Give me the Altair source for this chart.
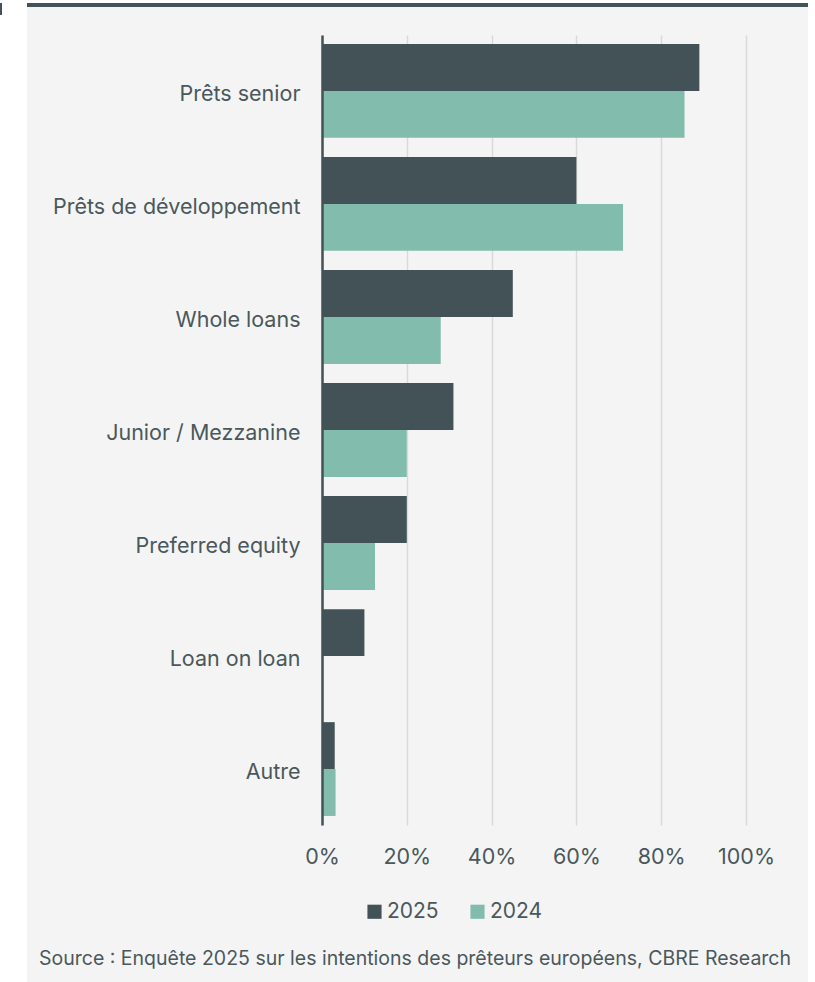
import altair as alt
import pandas as pd

categories = ["Prêts senior", "Prêts de développement", "Whole loans", "Junior / Mezzanine",
              "Preferred equity", "Loan on loan", "Autre"]
v2025 = [89, 60, 45, 31, 20, 10, 3]
v2024 = [85.5, 71, 28, 20, 12.5, 0, 3.2]
series = ["2025", "2024"]
colors = ["#435256", "#82bcad"]
x_ticks = [0, 20, 40, 60, 80, 100]
source_text = "Source : Enquête 2025 sur les intentions des prêteurs européens, CBRE Research"

rows = []
for c, a, b in zip(categories, v2025, v2024):
    rows.append({"cat": c, "year": "2025", "val": a})
    rows.append({"cat": c, "year": "2024", "val": b})
df = pd.DataFrame(rows)

TXT = "#4a585c"
FONT = "Inter"

one = pd.DataFrame({"a": [0]})

left_strip = alt.Chart(one).mark_rect(color="white").encode(
    x=alt.value(-322), x2=alt.value(-295), y=alt.value(-35), y2=alt.value(947)
)
right_strip = alt.Chart(one).mark_rect(color="white").encode(
    x=alt.value(486), x2=alt.value(493), y=alt.value(-35), y2=alt.value(947)
)
top_strip = alt.Chart(one).mark_rect(color="white").encode(
    x=alt.value(-322), x2=alt.value(493), y=alt.value(-35), y2=alt.value(-32)
)
topline = alt.Chart(one).mark_rule(color="#435256", strokeWidth=4).encode(
    x=alt.value(-295), x2=alt.value(486), y=alt.value(-30)
)
edge_mark = alt.Chart(one).mark_rule(color="#435256", strokeWidth=2).encode(
    x=alt.value(-321), y=alt.value(-32), y2=alt.value(-20)
)

bars = alt.Chart(df).mark_bar().encode(
    y=alt.Y("cat:N", sort=categories, title=None,
            scale=alt.Scale(paddingInner=0.17, paddingOuter=0.08),
            axis=alt.Axis(labelFontSize=21.5, labelColor=TXT, labelFont=FONT, labelPadding=22,
                          labelLimit=320, labelOffset=4, ticks=False, domain=True,
                          domainColor="#435256", domainWidth=2.5, labelFontWeight="normal",
                          zindex=1)),
    yOffset=alt.YOffset("year:N", sort=series, scale=alt.Scale(paddingInner=0, paddingOuter=0)),
    x=alt.X("val:Q", title=None, scale=alt.Scale(domain=[0, 100], nice=False),
            axis=alt.Axis(values=x_ticks, labelExpr="datum.value + '%'", labelFontSize=21.5,
                          labelColor=TXT, labelFont=FONT, labelPadding=21, ticks=False,
                          labelFlush=False, domain=False, grid=True, gridColor="#d9d9d9",
                          gridWidth=1.5)),
    color=alt.Color("year:N", sort=series,
                    scale=alt.Scale(domain=series, range=colors),
                    legend=alt.Legend(title=None, orient="none", legendX=42, legendY=866,
                                      direction="horizontal", symbolType="square",
                                      symbolSize=200, symbolStrokeWidth=0, labelFontSize=21,
                                      labelColor=TXT, labelFont=FONT, columnPadding=28,
                                      labelOffset=2)),
)

src = alt.Chart(pd.DataFrame({"t": [source_text]})).mark_text(
    align="left", baseline="alphabetic", fontSize=19.5, color=TXT, font=FONT
).encode(x=alt.value(-283), y=alt.value(930), text="t:N")

chart = alt.layer(left_strip, right_strip, top_strip, topline, edge_mark, bars, src).properties(
    width=424, height=790,
    autosize=alt.AutoSizeParams(type="none"),
    padding={"left": 322, "top": 35, "right": 69, "bottom": 157},
).configure(background="#f4f4f4").configure_view(stroke=None)

chart.save("out.html", embed_options={"renderer": "svg", "actions": False})
